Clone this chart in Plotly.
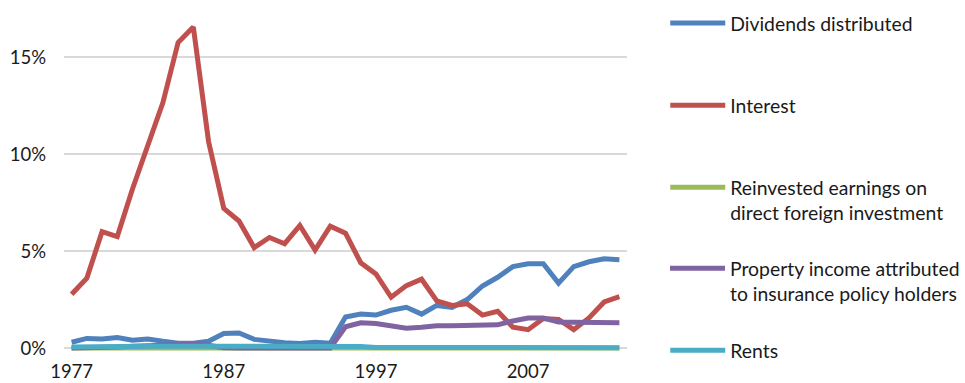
import plotly.graph_objects as go

years = list(range(1977, 2014))

dividends = [0.30, 0.50, 0.47, 0.55, 0.40, 0.47, 0.35, 0.25, 0.25, 0.35,
             0.75, 0.78, 0.45, 0.35, 0.27, 0.24, 0.30, 0.25, 1.60, 1.75,
             1.70, 1.95, 2.10, 1.75, 2.20, 2.10, 2.50, 3.20, 3.65, 4.20,
             4.35, 4.35, 3.35, 4.20, 4.45, 4.60, 4.55]

interest = [2.78, 3.60, 6.00, 5.75, 8.20, 10.50, 12.65, 15.75, 16.55, 10.65,
            7.20, 6.55, 5.18, 5.70, 5.38, 6.32, 5.05, 6.28, 5.92, 4.40,
            3.82, 2.62, 3.22, 3.55, 2.43, 2.20, 2.28, 1.70, 1.90, 1.08,
            0.95, 1.52, 1.48, 0.95, 1.55, 2.38, 2.65]

reinvested = [0.0] * 37

property_income = [0.0, 0.0, 0.02, 0.05, 0.10, 0.12, 0.15, 0.18, 0.20, 0.15,
                   0.02, 0.0, 0.0, 0.0, 0.0, 0.0, 0.0, 0.0, 1.10, 1.30,
                   1.27, 1.15, 1.02, 1.07, 1.15, 1.15, 1.18, 1.20, 1.20, 1.40,
                   1.55, 1.55, 1.35, 1.33, 1.33, 1.32, 1.30]

rents = [0.06, 0.08, 0.09, 0.10, 0.10, 0.10, 0.10, 0.10, 0.10, 0.10,
         0.10, 0.10, 0.10, 0.09, 0.08, 0.08, 0.08, 0.08, 0.08, 0.08,
         0.03, 0.03, 0.03, 0.04, 0.06, 0.06, 0.02, 0.02, 0.02, 0.02,
         0.02, 0.02, 0.02, 0.02, 0.02, 0.02, 0.02]

series_names = [
    "Dividends distributed",
    "Interest",
    "Reinvested earnings on<br>direct foreign investment",
    "Property income attributed<br>to insurance policy holders",
    "Rents",
]
series_values = [dividends, interest, reinvested, property_income, rents]
colors = ["#4F81BD", "#C0504D", "#9BBB59", "#8064A2", "#4BACC6"]

x_tick_years = [1977, 1987, 1997, 2007]
y_tick_values = [0, 5, 10, 15]
y_tick_labels = ["0%", "5%", "10%", "15%"]

FONT = "Lato, Carlito, Calibri, sans-serif"
TEXT = "#1a1a1a"

# figure geometry (pixels)
W, H = 965, 383
ML, MR, MT, MB = 64.4, 335.4, 0, 32.1
plot_w = W - ML - MR
plot_h = H - MT - MB

# each legend entry gets its own legend box, evenly spaced down the right side
legend_tops_px = [4, 86, 168, 249, 331]
legend_left_px = 668

fig = go.Figure()
legend_layout = {}
for i, (name, vals, col) in enumerate(zip(series_names, series_values, colors)):
    key = "legend" if i == 0 else f"legend{i + 1}"
    fig.add_trace(go.Scatter(
        x=years, y=vals, mode="lines", name=name, legend=key,
        line=dict(color=col, width=5),
        hoverinfo="skip",
    ))
    legend_layout[key] = dict(
        x=(legend_left_px - ML) / plot_w, xanchor="left",
        y=1 - (legend_tops_px[i] - MT) / plot_h, yanchor="top",
        valign="top", itemwidth=55,
        bgcolor="rgba(0,0,0,0)",
        font=dict(family=FONT, size=19.4, color=TEXT),
    )

fig.update_layout(
    width=W, height=H,
    margin=dict(l=ML, r=MR, t=MT, b=MB),
    paper_bgcolor="white", plot_bgcolor="white",
    font=dict(family=FONT, size=18.5, color=TEXT),
    showlegend=True,
    xaxis=dict(
        range=[1976.5, 2013.5], tickmode="array", tickvals=x_tick_years,
        showgrid=False, zeroline=False, showline=False, ticks="",
        ticklabelstandoff=7, automargin=False,
        tickfont=dict(family=FONT, size=18.5, color=TEXT),
    ),
    yaxis=dict(
        range=[-0.15, 17.94], tickmode="array", tickvals=y_tick_values,
        ticktext=y_tick_labels, showgrid=True, gridcolor="#D9D9D9", gridwidth=1.5,
        zeroline=True, zerolinecolor="#D9D9D9", zerolinewidth=1.5,
        showline=False, ticks="", ticklabelstandoff=17, automargin=False,
        tickfont=dict(family=FONT, size=18.5, color=TEXT),
    ),
    **legend_layout,
)

fig.write_html("out.html")
